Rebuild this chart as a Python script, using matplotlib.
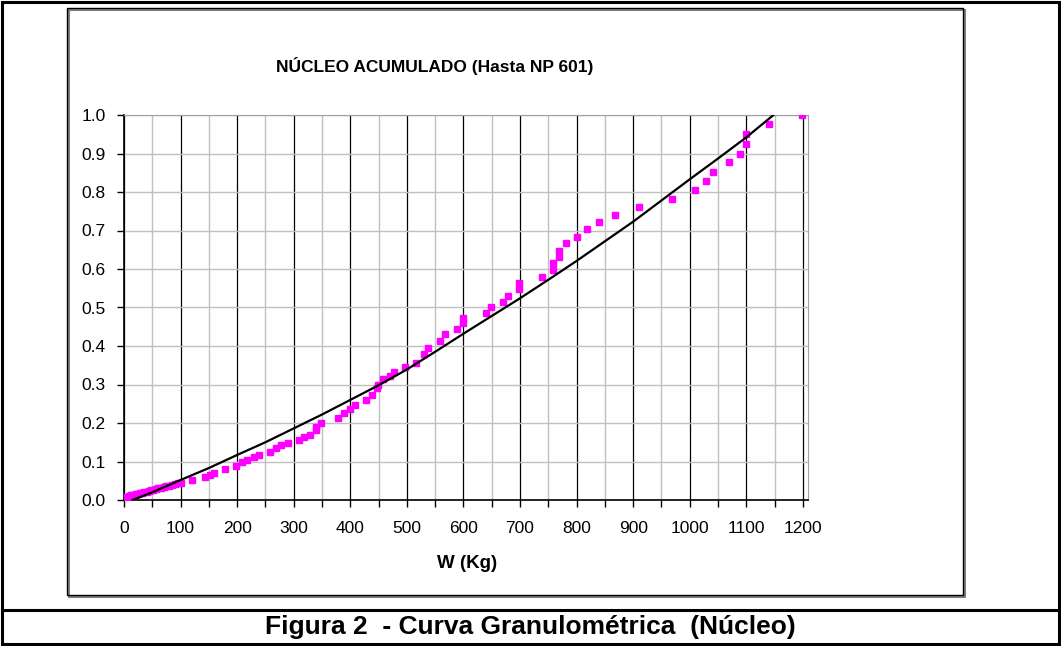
import matplotlib.pyplot as plt
from matplotlib.patches import Rectangle
from matplotlib.lines import Line2D
from matplotlib.ticker import MultipleLocator

plt.rcParams['font.family'] = ['Liberation Sans', 'DejaVu Sans']

# datos medidos (W en Kg, fraccion acumulada)
w_pts = [2, 4, 6, 8, 10, 13, 16, 19, 22, 25, 28, 32, 36, 40, 44, 48, 52, 56,
         60, 65, 70, 75, 80, 85, 90, 95, 100,
         120, 143, 152, 159, 179, 198, 208, 217, 229, 238, 258, 268, 277, 289,
         309, 319, 328, 339, 339, 348, 379, 388, 399, 409, 428, 438, 447, 449,
         458, 470, 478, 497, 517, 530, 537, 559, 568, 588, 599, 599,
         639, 648, 670, 678, 698, 698, 738, 758, 758, 769, 769, 781, 800, 819,
         839, 868, 910, 969, 1009, 1029, 1041, 1069, 1089, 1100, 1100, 1140, 1199]
f_pts = [0.004, 0.006, 0.008, 0.010, 0.011, 0.012, 0.013, 0.014, 0.015, 0.016,
         0.017, 0.019, 0.020, 0.022, 0.023, 0.025, 0.026, 0.028,
         0.030, 0.032, 0.034, 0.036, 0.037, 0.039, 0.041, 0.043, 0.045,
         0.052, 0.060, 0.065, 0.071, 0.080, 0.088, 0.100, 0.104, 0.111, 0.117,
         0.125, 0.134, 0.143, 0.149,
         0.156, 0.163, 0.169, 0.182, 0.190, 0.200, 0.212, 0.225, 0.236, 0.247,
         0.261, 0.273, 0.290, 0.299,
         0.313, 0.322, 0.333, 0.346, 0.355, 0.379, 0.394, 0.414, 0.430, 0.443,
         0.459, 0.472,
         0.485, 0.502, 0.514, 0.531, 0.547, 0.563, 0.579, 0.597, 0.615, 0.632,
         0.648, 0.667, 0.682, 0.703,
         0.721, 0.741, 0.760, 0.783, 0.805, 0.829, 0.851, 0.877, 0.900, 0.925,
         0.951, 0.977, 1.000]

# curva ajustada
w_fit = [15, 50, 100, 150, 200, 250, 300, 350, 400, 450, 500, 550, 600, 650,
         700, 750, 800, 850, 900, 950, 1000, 1050, 1100, 1148]
f_fit = [0.0, 0.020, 0.052, 0.083, 0.117, 0.150, 0.186, 0.222, 0.260, 0.298,
         0.339, 0.385, 0.432, 0.478, 0.524, 0.572, 0.621, 0.672, 0.723, 0.778,
         0.833, 0.887, 0.942, 1.0]

W, H = 1061, 646
fig = plt.figure(figsize=(W / 100, H / 100), dpi=100)

def fx(px):
    return px / W

def fy(py):
    return 1 - py / H

# marcos
fig.add_artist(Rectangle((fx(69), fy(597)), fx(963 - 67), (597 - 10) / H,
                         transform=fig.transFigure, fill=False,
                         ec='#808080', lw=1.5))
fig.add_artist(Rectangle((fx(67), fy(595)), fx(963 - 67), (595 - 8) / H,
                         transform=fig.transFigure, fill=False,
                         ec='black', lw=1.0))
fig.add_artist(Rectangle((fx(2), fy(644)), fx(1057), 642 / H,
                         transform=fig.transFigure, fill=False,
                         ec='black', lw=2.2))
fig.add_artist(Line2D([fx(2), fx(1059)], [fy(610), fy(610)],
                      transform=fig.transFigure, color='black', lw=2.2))

ax = fig.add_axes([fx(124), fy(500), fx(808 - 124), (500 - 115) / H])

ax.xaxis.set_major_locator(MultipleLocator(100))
ax.xaxis.set_minor_locator(MultipleLocator(50))
ax.yaxis.set_major_locator(MultipleLocator(0.1))
ax.grid(which='minor', axis='x', color='#c0c0c0', lw=1.0)
ax.grid(which='major', axis='x', color='black', lw=0.9)
ax.grid(which='major', axis='y', color='#c0c0c0', lw=1.0)
ax.set_axisbelow(True)

ax.plot(w_pts, f_pts, 's', color='#ff00ff', ms=5, mec='#ff00ff', zorder=3)
ax.plot(w_fit, f_fit, color='black', lw=1.6, zorder=4)

ax.set_xlim(0, 1209)
ax.set_ylim(0, 1.0)
ax.yaxis.set_major_formatter(plt.FuncFormatter(lambda v, p: f'{v:.1f}'))
ax.tick_params(which='both', direction='out', length=5, width=1,
               labelsize=12.5, colors='black')
ax.tick_params(axis='x', pad=10)
ax.tick_params(axis='y', pad=8)
for s in ['top', 'right']:
    ax.spines[s].set_color('#a0a0a0')
for s in ['left', 'bottom']:
    ax.spines[s].set_color('black')
    ax.spines[s].set_linewidth(1.2)

fig.text(fx(435), fy(66), 'NÚCLEO ACUMULADO (Hasta NP 601)', ha='center',
         va='center', fontsize=12.5, fontweight='bold')
fig.text(fx(467), fy(563), 'W (Kg)', ha='center', va='center',
         fontsize=13.5, fontweight='bold')
fig.text(fx(530), fy(627), 'Figura 2  - Curva Granulométrica  (Núcleo)',
         ha='center', va='center', fontsize=19, fontweight='bold')

fig.savefig('out.png', dpi=100)
